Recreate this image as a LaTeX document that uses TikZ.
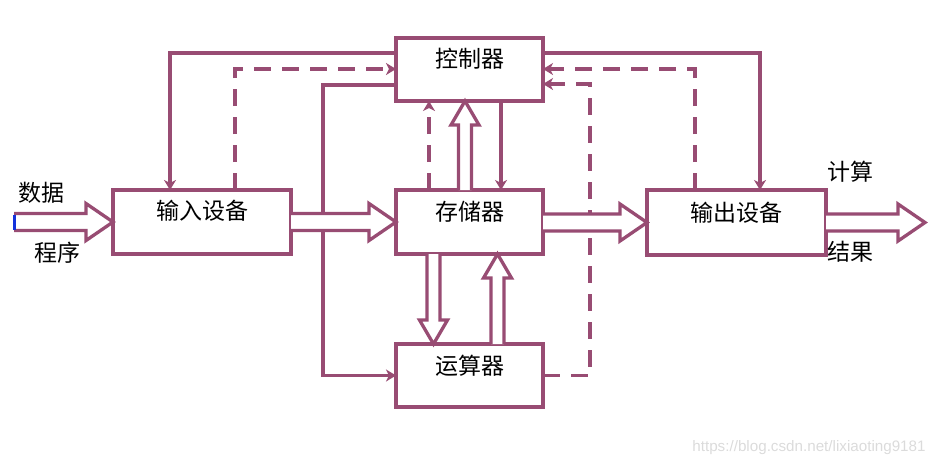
\documentclass[tikz,border=0pt]{standalone}
\usepackage{fontspec}
\setmainfont{Noto Sans CJK SC}
\newfontfamily\wmfont{Liberation Sans}
\usetikzlibrary{arrows.meta,calc}
\definecolor{pl}{RGB}{152,76,115}
\definecolor{bl}{RGB}{20,50,220}
\newcommand{\HSW}{8.5pt}
\newcommand{\HHW}{18.5pt}
\newcommand{\HHL}{27pt}
\newcommand{\VSW}{6.5pt}
\newcommand{\VHW}{14pt}
\newcommand{\VHL}{24pt}
\newcommand{\harr}[2]{\draw[hollow] let \p1=(#1), \p2=(#2) in
  (\x1,{\y2+\HSW}) -- ({\x2-\HHL},{\y2+\HSW}) -- ({\x2-\HHL},{\y2+\HHW}) -- (\x2,\y2)
  -- ({\x2-\HHL},{\y2-\HHW}) -- ({\x2-\HHL},{\y2-\HSW}) -- (\x1,{\y2-\HSW});}
\newcommand{\uarr}[2]{\draw[hollow] let \p1=(#1), \p2=(#2) in
  ({\x2-\VSW},\y1) -- ({\x2-\VSW},{\y2-\VHL}) -- ({\x2-\VHW},{\y2-\VHL}) -- (\x2,\y2)
  -- ({\x2+\VHW},{\y2-\VHL}) -- ({\x2+\VSW},{\y2-\VHL}) -- ({\x2+\VSW},\y1);}
\newcommand{\darr}[2]{\draw[hollow] let \p1=(#1), \p2=(#2) in
  ({\x2-\VSW},\y1) -- ({\x2-\VSW},{\y2+\VHL}) -- ({\x2-\VHW},{\y2+\VHL}) -- (\x2,\y2)
  -- ({\x2+\VHW},{\y2+\VHL}) -- ({\x2+\VSW},{\y2+\VHL}) -- ({\x2+\VSW},\y1);}
\tikzset{
  box/.style={draw=pl, line width=3.3pt, fill=white, rectangle, inner sep=0pt, outer sep=0pt},
  lbl/.style={font=\fontsize{23}{25}\selectfont, inner sep=0pt},
  solidarrow/.style={draw=pl, line width=3.3pt, -{Stealth[length=10pt,width=12pt,inset=3pt]}},
  dasharrow/.style={solidarrow, dash pattern=on 17pt off 11pt},
  hollow/.style={draw=pl, line width=3.3pt, fill=white, line join=miter},
}
\begin{document}
\begin{tikzpicture}[x=1pt,y=-1pt]
\useasboundingbox (0,0) rectangle (945,466);
% boxes
\node[box, minimum width=147pt, minimum height=63pt] (ctrl) at (469.5,69.5) {};
\node[box, minimum width=178pt, minimum height=64pt] (in) at (202,222) {};
\node[box, minimum width=147pt, minimum height=64pt] (mem) at (469.5,222) {};
\node[box, minimum width=179pt, minimum height=65pt] (out) at (736.5,222.5) {};
\node[box, minimum width=147pt, minimum height=63pt] (alu) at (469.5,375.5) {};
% box labels
\node[lbl] (ctrlt) at ([yshift=11pt]ctrl.center) {控制器};
\node[lbl] (int) at ([yshift=11pt]in.center) {输入设备};
\node[lbl] (memt) at ([yshift=10pt]mem.center) {存储器};
\node[lbl] (outt) at ([yshift=10pt]out.center) {输出设备};
\node[lbl] (alut) at ([yshift=10pt]alu.center) {运算器};
% outer labels
\node[lbl] (l1) at (42,193) {数据};
\node[lbl] (l2) at (57,253) {程序};
\node[lbl] (l3) at (850,172) {计算};
\node[lbl] (l4) at (850,252) {结果};
% free ends
\coordinate (intail) at ([xshift=-99pt]in.west);
\coordinate (outtip) at ([xshift=99pt]out.east);
% control / signal connectors
\draw[solidarrow] ([yshift=-15pt]ctrl.north west) -| ([xshift=57pt]in.north west);
\draw[dasharrow] ([xshift=122pt]in.north west) |- ([yshift=-31pt]ctrl.north west);
\draw[solidarrow] ([yshift=-47pt]ctrl.north west) -| ([xshift=-73pt]alu.west) -- (alu.west);
\draw[dasharrow] ([xshift=33pt]mem.north west) -- ([xshift=33pt]ctrl.south west);
\draw[solidarrow] ([xshift=105pt]ctrl.south west) -- ([xshift=105pt]mem.north west);
\draw[solidarrow] ([yshift=-15pt]ctrl.north east) -| ([xshift=113pt]out.north west);
\draw[dasharrow] ([xshift=48pt]out.north west) |- ([yshift=-31pt]ctrl.north east);
\draw[dasharrow] (alu.east) -| ([xshift=47pt,yshift=-46pt]ctrl.north east) -- ([yshift=-46pt]ctrl.north east);
% hollow data arrows
\harr{intail}{in.west}
\draw[bl, line width=3pt] ([yshift=7.5pt]intail) -- ([yshift=-7.5pt]intail);
\harr{in.east}{mem.west}
\harr{mem.east}{out.west}
\harr{out.east}{outtip}
\uarr{[xshift=-4.5pt]mem.north}{[xshift=-4.5pt]ctrl.south}
\darr{[xshift=-36pt]mem.south}{[xshift=-36pt]alu.north}
\uarr{[xshift=28pt]alu.north}{[xshift=28pt]mem.south}
% watermark
\node[font=\wmfont\fontsize{15.2}{17}\selectfont, text=black!14, inner sep=0pt] (wm) at (809,448) {https://blog.csdn.net/lixiaoting9181};
\end{tikzpicture}
\end{document}
